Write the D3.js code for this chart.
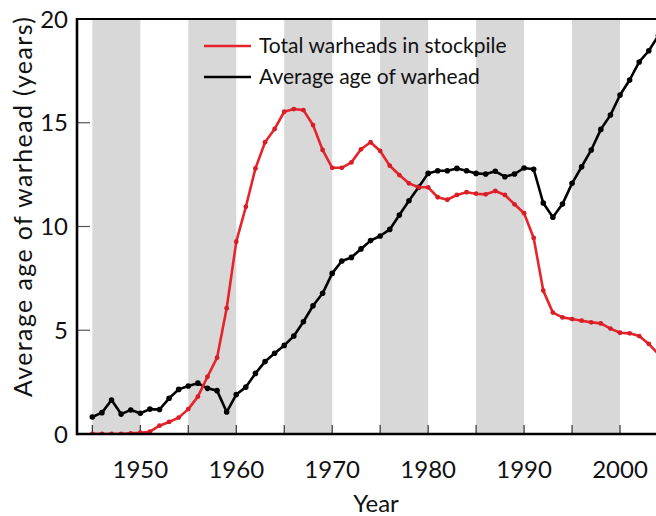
<!DOCTYPE html>
<html>
<head>
<meta charset="utf-8">
<script src="https://cdn.jsdelivr.net/npm/d3@7"></script>
<style>
  body { margin: 0; background: #fff; }
  svg { display: block; font-family: Lato, "Open Sans", sans-serif; }
</style>
</head>
<body>
<svg id="chart" width="656" height="516"></svg>
<script>
const years = d3.range(1945, 2005);

// average age of warhead (years)
const avgAge = [
  0.82, 1.03, 1.64, 0.96, 1.16, 1.0, 1.2, 1.18, 1.72, 2.15,
  2.31, 2.45, 2.2, 2.09, 1.06, 1.9, 2.26, 2.92, 3.49, 3.89,
  4.27, 4.72, 5.41, 6.18, 6.78, 7.74, 8.34, 8.51, 8.92, 9.32,
  9.54, 9.86, 10.55, 11.24, 11.89, 12.56, 12.69, 12.69, 12.8, 12.69,
  12.56, 12.53, 12.66, 12.4, 12.53, 12.82, 12.76, 11.13, 10.45, 11.08,
  12.08, 12.88, 13.69, 14.68, 15.37, 16.34, 17.06, 17.93, 18.47, 19.2
];

// total warheads in stockpile (scaled to the same axis)
const stockpile = [
  0, 0, 0, 0, 0.03, 0.06, 0.11, 0.4, 0.58, 0.79,
  1.2, 1.8, 2.76, 3.68, 6.06, 9.27, 10.95, 12.8, 14.06, 14.7,
  15.53, 15.66, 15.61, 14.89, 13.69, 12.83, 12.83, 13.09, 13.72, 14.06,
  13.64, 12.93, 12.48, 12.08, 11.89, 11.89, 11.41, 11.29, 11.52, 11.65,
  11.58, 11.55, 11.71, 11.52, 11.07, 10.64, 9.45, 6.91, 5.85, 5.62,
  5.54, 5.46, 5.38, 5.33, 5.08, 4.88, 4.85, 4.72, 4.34, 3.85
];

const shadeStarts = [1945, 1955, 1965, 1975, 1985, 1995];
const xTickYears = [1950, 1960, 1970, 1980, 1990, 2000];
const xMinorYears = d3.range(1945, 2005, 5);
const yTicks = [0, 5, 10, 15, 20];

const legendItems = [
  { label: "Total warheads in stockpile", color: "#e8232b" },
  { label: "Average age of warhead", color: "#000" }
];

const margin = { top: 19, left: 77 };
const width = 579, height = 415;

const svg = d3.select("#chart");
const g = svg.append("g").attr("transform", `translate(${margin.left},${margin.top})`);

const x = d3.scaleLinear().domain([1943.4, 2003.75]).range([0, width]);
const y = d3.scaleLinear().domain([0, 20]).range([height, 0]);

svg.append("defs").append("clipPath").attr("id", "plot-clip")
  .append("rect").attr("x", 0).attr("y", -2).attr("width", width).attr("height", height + 2);

// grey bands
g.selectAll("rect.band")
  .data(shadeStarts)
  .enter().append("rect")
  .attr("class", "band")
  .attr("x", d => x(d))
  .attr("y", 0)
  .attr("width", d => x(d + 5) - x(d))
  .attr("height", height)
  .attr("fill", "#d8d8d8");

// y ticks inside
g.selectAll("line.ytick")
  .data(yTicks.filter(d => d > 0 && d < 20))
  .enter().append("line")
  .attr("x1", 0).attr("x2", 13)
  .attr("y1", d => y(d)).attr("y2", d => y(d))
  .attr("stroke", "#555").attr("stroke-width", 1.2);

// x ticks inside
g.selectAll("line.xtick")
  .data(xMinorYears)
  .enter().append("line")
  .attr("x1", d => x(d)).attr("x2", d => x(d))
  .attr("y1", height).attr("y2", height - 9)
  .attr("stroke", "#333").attr("stroke-width", 1.2);

// y tick labels
g.selectAll("text.ylab")
  .data(yTicks)
  .enter().append("text")
  .attr("x", -9)
  .attr("y", d => y(d))
  .attr("dy", "0.36em")
  .attr("text-anchor", "end")
  .attr("font-size", 24)
  .attr("fill", "#111")
  .text(d => d);

// x tick labels
g.selectAll("text.xlab")
  .data(xTickYears)
  .enter().append("text")
  .attr("x", d => x(d))
  .attr("y", height + 44)
  .attr("text-anchor", "middle")
  .attr("font-size", 24)
  .attr("fill", "#111")
  .text(d => d);

// lines
const lineGen = vals => d3.line()
  .x((d, i) => x(years[i]))
  .y(d => y(d))(vals);

const plot = g.append("g").attr("clip-path", "url(#plot-clip)");

plot.append("path")
  .attr("d", lineGen(avgAge))
  .attr("fill", "none")
  .attr("stroke", "#000")
  .attr("stroke-width", 2.6)
  .attr("stroke-linejoin", "round");

plot.selectAll("circle.age")
  .data(avgAge)
  .enter().append("circle")
  .attr("cx", (d, i) => x(years[i]))
  .attr("cy", d => y(d))
  .attr("r", 2.8)
  .attr("fill", "#000");

plot.append("path")
  .attr("d", lineGen(stockpile))
  .attr("fill", "none")
  .attr("stroke", "#e8232b")
  .attr("stroke-width", 2.6)
  .attr("stroke-linejoin", "round");

plot.selectAll("circle.stock")
  .data(stockpile)
  .enter().append("circle")
  .attr("cx", (d, i) => x(years[i]))
  .attr("cy", d => y(d))
  .attr("r", 2.4)
  .attr("fill", "#d51e26");

// frame
g.append("line").attr("x1", 0).attr("x2", width + 5).attr("y1", 0).attr("y2", 0)
  .attr("stroke", "#000").attr("stroke-width", 2.2);
g.append("line").attr("x1", 0).attr("x2", width + 5).attr("y1", height).attr("y2", height)
  .attr("stroke", "#000").attr("stroke-width", 2.6);
g.append("line").attr("x1", 0).attr("x2", 0).attr("y1", -1).attr("y2", height + 1.3)
  .attr("stroke", "#000").attr("stroke-width", 2.6);

// legend
const legend = g.append("g").attr("transform", "translate(127,27)");
legendItems.forEach((item, i) => {
  const row = legend.append("g").attr("transform", `translate(0,${i * 31})`);
  row.append("line").attr("x1", 0).attr("x2", 47).attr("y1", 0).attr("y2", 0)
    .attr("stroke", item.color).attr("stroke-width", 2.6);
  row.append("text").attr("x", 55).attr("y", 0).attr("dy", "0.35em")
    .attr("font-size", 21).attr("fill", "#111").text(item.label);
});

// axis titles
svg.append("text")
  .attr("x", 376).attr("y", 512)
  .attr("text-anchor", "middle")
  .attr("font-size", 24).attr("fill", "#111")
  .text("Year");

svg.append("text")
  .attr("transform", "translate(32,207) rotate(-90)")
  .attr("text-anchor", "middle")
  .attr("font-size", 25).attr("fill", "#111")
  .attr("textLength", 380).attr("lengthAdjust", "spacing")
  .text("Average age of warhead (years)");
</script>
</body>
</html>
